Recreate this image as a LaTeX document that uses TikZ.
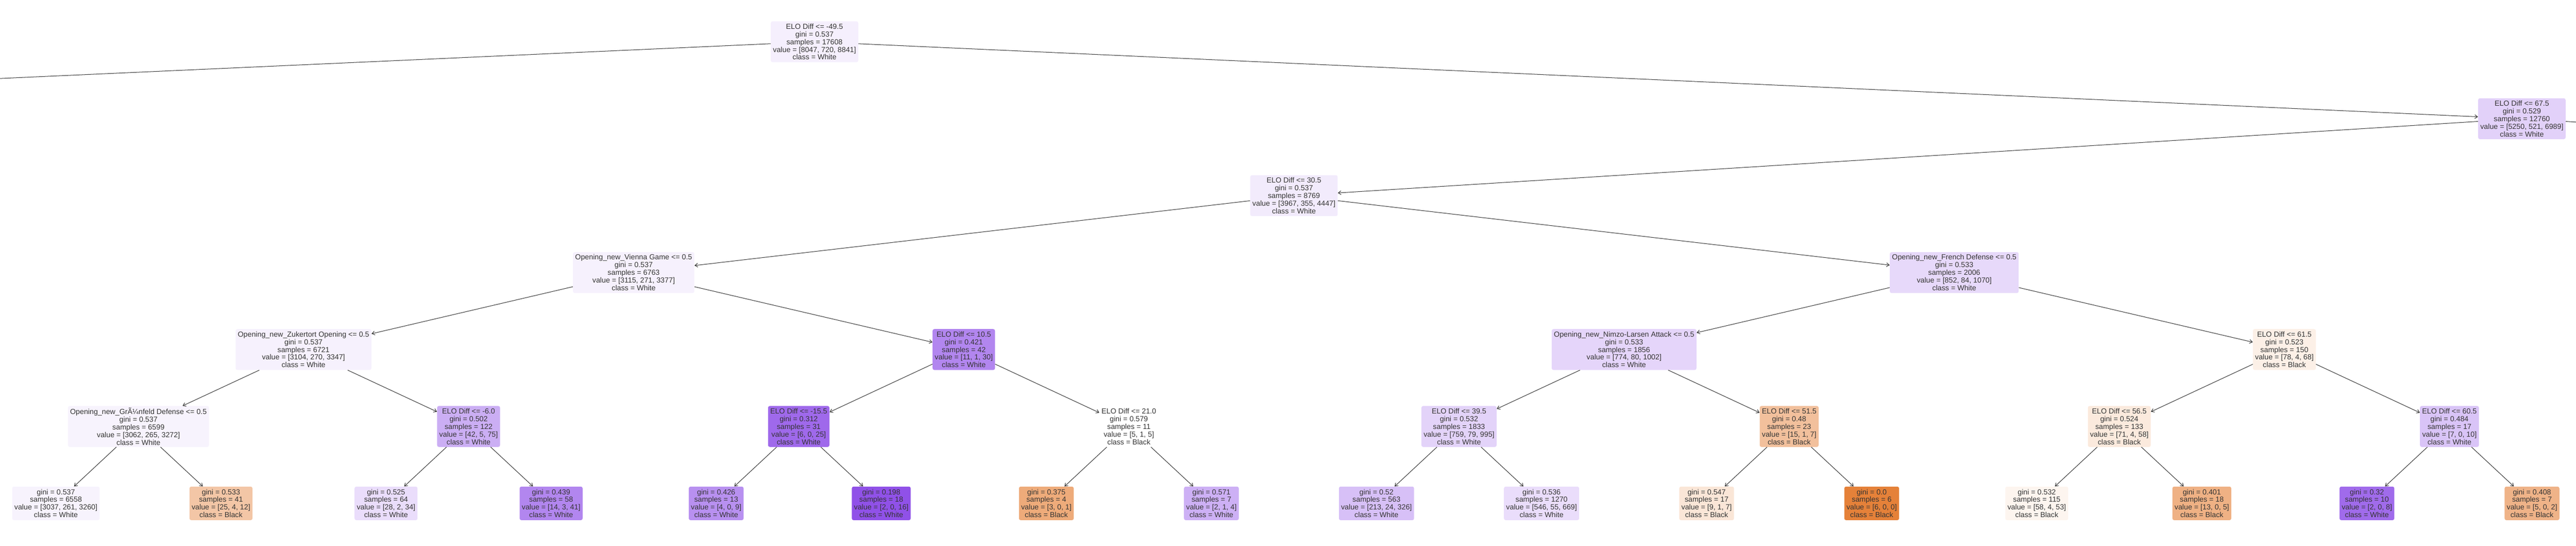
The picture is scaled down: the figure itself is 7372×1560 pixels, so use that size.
\documentclass[tikz,border=0pt]{standalone}
\usepackage{fontspec}
\setmainfont{Liberation Sans}
\usetikzlibrary{arrows.meta}
\definecolor{wht}{RGB}{129,57,229}
\definecolor{blk}{RGB}{229,129,57}
\begin{document}
\begin{tikzpicture}[x=0.5pt,y=-0.5pt,>={Straight Barb[length=4pt,width=5.5pt]},
    nd/.style={rounded corners=2.5pt,inner xsep=3.15pt,inner ysep=0pt,align=center,minimum height=58.5pt,text=black!80,font=\fontsize{10.5}{11}\selectfont},
    lf/.style={nd,minimum height=48pt},
    ed/.style={->,line width=0.75pt,black!80}]
    \useasboundingbox(0,0)rectangle(7372,1560);
    \clip(0,0)rectangle(7372,1560);

    \node[nd,fill=wht!8](r)at(2331,119.5){ELO Diff <= -49.5\\gini = 0.537\\samples = 17608\\value = [8047, 720, 8841]\\class = White};
    \coordinate(rl)at(-2555,339.5);
    \node[nd,fill=wht!23](n1)at(7217,339.5){ELO Diff <= 67.5\\gini = 0.529\\samples = 12760\\value = [5250, 521, 6989]\\class = White};
    \coordinate(n1r)at(10730,559.5);
    \node[nd,fill=wht!10](n2)at(3703,559.5){ELO Diff <= 30.5\\gini = 0.537\\samples = 8769\\value = [3967, 355, 4447]\\class = White};

    \node[nd,fill=wht!7](vg)at(1813.4,779.5){Opening\_new\_Vienna Game <= 0.5\\gini = 0.537\\samples = 6763\\value = [3115, 271, 3377]\\class = White};
    \node[nd,fill=wht!19](fd)at(5592.6,779.5){Opening\_new\_French Defense <= 0.5\\gini = 0.533\\samples = 2006\\value = [852, 84, 1070]\\class = White};

    \node[nd,fill=wht!7](zo)at(868.6,999.5){Opening\_new\_Zukertort Opening <= 0.5\\gini = 0.537\\samples = 6721\\value = [3104, 270, 3347]\\class = White};
    \node[nd,fill=wht!61](e10)at(2758.2,999.5){ELO Diff <= 10.5\\gini = 0.421\\samples = 42\\value = [11, 1, 30]\\class = White};
    \node[nd,fill=wht!21](nl)at(4647.8,999.5){Opening\_new\_Nimzo-Larsen Attack <= 0.5\\gini = 0.533\\samples = 1856\\value = [774, 80, 1002]\\class = White};
    \node[nd,fill=blk!12](e61)at(6537.4,999.5){ELO Diff <= 61.5\\gini = 0.523\\samples = 150\\value = [78, 4, 68]\\class = Black};

    \node[nd,fill=wht!6](gf)at(396.2,1219.5){Opening\_new\_GrÃ¼nfeld Defense <= 0.5\\gini = 0.537\\samples = 6599\\value = [3062, 265, 3272]\\class = White};
    \node[nd,fill=wht!41](em6)at(1341,1219.5){ELO Diff <= -6.0\\gini = 0.502\\samples = 122\\value = [42, 5, 75]\\class = White};
    \node[nd,fill=wht!76](em15)at(2285.8,1219.5){ELO Diff <= -15.5\\gini = 0.312\\samples = 31\\value = [6, 0, 25]\\class = White};
    \node[nd,fill=white](e21)at(3230.6,1219.5){ELO Diff <= 21.0\\gini = 0.579\\samples = 11\\value = [5, 1, 5]\\class = Black};
    \node[nd,fill=wht!22](e39)at(4175.4,1219.5){ELO Diff <= 39.5\\gini = 0.532\\samples = 1833\\value = [759, 79, 995]\\class = White};
    \node[nd,fill=blk!50](e51)at(5120.2,1219.5){ELO Diff <= 51.5\\gini = 0.48\\samples = 23\\value = [15, 1, 7]\\class = Black};
    \node[nd,fill=blk!17](e56)at(6065,1219.5){ELO Diff <= 56.5\\gini = 0.524\\samples = 133\\value = [71, 4, 58]\\class = Black};
    \node[nd,fill=wht!30](e60)at(7009.8,1219.5){ELO Diff <= 60.5\\gini = 0.484\\samples = 17\\value = [7, 0, 10]\\class = White};

    \node[lf,fill=wht!6](l1)at(160,1439.5){gini = 0.537\\samples = 6558\\value = [3037, 261, 3260]\\class = White};
    \node[lf,fill=blk!45](l2)at(632.4,1439.5){gini = 0.533\\samples = 41\\value = [25, 4, 12]\\class = Black};
    \node[lf,fill=wht!17](l3)at(1104.8,1439.5){gini = 0.525\\samples = 64\\value = [28, 2, 34]\\class = White};
    \node[lf,fill=wht!61](l4)at(1577.2,1439.5){gini = 0.439\\samples = 58\\value = [14, 3, 41]\\class = White};
    \node[lf,fill=wht!56](l5)at(2049.6,1439.5){gini = 0.426\\samples = 13\\value = [4, 0, 9]\\class = White};
    \node[lf,fill=wht!88](l6)at(2522,1439.5){gini = 0.198\\samples = 18\\value = [2, 0, 16]\\class = White};
    \node[lf,fill=blk!67](l7)at(2994.4,1439.5){gini = 0.375\\samples = 4\\value = [3, 0, 1]\\class = Black};
    \node[lf,fill=wht!40](l8)at(3466.8,1439.5){gini = 0.571\\samples = 7\\value = [2, 1, 4]\\class = White};
    \node[lf,fill=wht!32](l9)at(3939.2,1439.5){gini = 0.52\\samples = 563\\value = [213, 24, 326]\\class = White};
    \node[lf,fill=wht!17](l10)at(4411.6,1439.5){gini = 0.536\\samples = 1270\\value = [546, 55, 669]\\class = White};
    \node[lf,fill=blk!20](l11)at(4884,1439.5){gini = 0.547\\samples = 17\\value = [9, 1, 7]\\class = Black};
    \node[lf,fill=blk](l12)at(5356.4,1439.5){gini = 0.0\\samples = 6\\value = [6, 0, 0]\\class = Black};
    \node[lf,fill=blk!8](l13)at(5828.8,1439.5){gini = 0.532\\samples = 115\\value = [58, 4, 53]\\class = Black};
    \node[lf,fill=blk!62](l14)at(6301.2,1439.5){gini = 0.401\\samples = 18\\value = [13, 0, 5]\\class = Black};
    \node[lf,fill=wht!75](l15)at(6773.6,1439.5){gini = 0.32\\samples = 10\\value = [2, 0, 8]\\class = White};
    \node[lf,fill=blk!60](l16)at(7246,1439.5){gini = 0.408\\samples = 7\\value = [5, 0, 2]\\class = Black};

    \draw[ed](r)--(rl);
    \draw[ed](r)--(n1);
    \draw[ed](n1)--(n2);
    \draw[ed](n1)--(n1r);
    \draw[ed](n2)--(vg);
    \draw[ed](n2)--(fd);
    \draw[ed](vg)--(zo);
    \draw[ed](vg)--(e10);
    \draw[ed](fd)--(nl);
    \draw[ed](fd)--(e61);
    \draw[ed](zo)--(gf);
    \draw[ed](zo)--(em6);
    \draw[ed](e10)--(em15);
    \draw[ed](e10)--(e21);
    \draw[ed](nl)--(e39);
    \draw[ed](nl)--(e51);
    \draw[ed](e61)--(e56);
    \draw[ed](e61)--(e60);
    \draw[ed](gf)--(l1);
    \draw[ed](gf)--(l2);
    \draw[ed](em6)--(l3);
    \draw[ed](em6)--(l4);
    \draw[ed](em15)--(l5);
    \draw[ed](em15)--(l6);
    \draw[ed](e21)--(l7);
    \draw[ed](e21)--(l8);
    \draw[ed](e39)--(l9);
    \draw[ed](e39)--(l10);
    \draw[ed](e51)--(l11);
    \draw[ed](e51)--(l12);
    \draw[ed](e56)--(l13);
    \draw[ed](e56)--(l14);
    \draw[ed](e60)--(l15);
    \draw[ed](e60)--(l16);
\end{tikzpicture}
\end{document}
